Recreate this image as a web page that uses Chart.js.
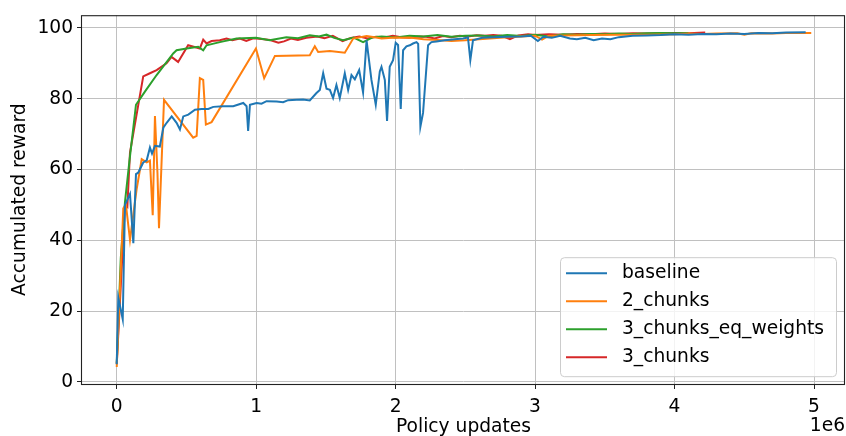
<!DOCTYPE html>
<html lang="en">
<head>
    <meta charset="UTF-8">
    <title>Accumulated reward</title>
    <script src="https://cdn.jsdelivr.net/npm/chart.js"></script>
    <style>
        body { margin: 0; background: #fff; }
        canvas { display: block; }
    </style>
</head>
<body>
    <canvas id="rewardChart" width="846" height="436"></canvas>

    <script>
        // policy updates are in millions (axis shows "1e6")
        const baselineSteps = [0.001,0.012,0.044,0.060,0.096,0.120,0.139,0.155,0.191,0.216,
            0.239,0.254,0.275,0.31,0.335,0.359,0.395,0.43,0.454,0.478,
            0.514,0.562,0.61,0.657,0.693,0.764,0.836,0.908,0.932,0.943,
            0.956,1.004,1.039,1.075,1.147,1.194,1.23,1.29,1.337,1.385,
            1.433,1.457,1.481,1.505,1.529,1.552,1.576,1.6,1.636,1.66,
            1.684,1.708,1.739,1.767,1.792,1.827,1.858,1.887,1.899,1.923,
            1.939,1.958,1.982,2.001,2.018,2.037,2.054,2.078,2.102,2.125,
            2.15,2.162,2.178,2.197,2.233,2.257,2.293,2.352,2.424,2.484,
            2.519,2.536,2.555,2.62,2.7,2.8,2.9,2.97,3.02,3.06,
            3.12,3.18,3.25,3.3,3.36,3.42,3.48,3.54,3.6,3.7,
            3.8,3.9,4.0,4.1,4.2,4.3,4.4,4.5,4.6,4.7,
            4.8,4.94];
        const baselineReward = [5,23.8,17.7,50,53.1,39.2,58.7,59.1,62,62.6,
            66.2,64.5,66.7,66.5,71.8,73.2,75,73.2,71.3,75,
            75.5,76.9,77.1,77.1,77.7,77.9,77.9,78.8,77.9,70.9,
            78.3,78.8,78.6,79.3,79.2,79,79.6,79.7,79.8,79.5,
            81.6,82.5,87.2,82.8,82.5,80.2,83.9,80.2,87.2,82.5,
            86.7,85.5,88.1,81.8,96.5,85.3,78.3,87.7,89,85.3,
            73.7,89,90.9,95.8,95.2,77.1,93.7,94.8,95.1,95.6,
            96,95.5,72.1,76,95.1,96,96.2,96.5,96.8,97,
            97.3,90.9,96.5,97.2,97.4,97.5,97.6,97.8,96.3,97.5,
            97.2,97.8,97,96.8,97.2,96.5,97,96.8,97.4,97.8,
            97.9,98,98.2,98.1,98.3,98.2,98.4,98.3,98.6,98.5,
            98.7,98.8];

        const twoChunksSteps = [0.001,0.048,0.067,0.096,0.144,0.18,0.216,0.239,0.259,0.275,
            0.293,0.304,0.34,0.549,0.574,0.597,0.621,0.64,0.681,0.999,
            1.058,1.135,1.385,1.421,1.445,1.529,1.636,1.696,1.792,1.85,
            1.9,2.0,2.05,2.1,2.2,2.3,2.4,2.5,2.6,2.7,
            2.8,2.9,3.0,3.05,3.1,3.2,3.4,3.6,3.8,4.0,
            4.1,4.2,4.3,4.45,4.5,4.55,4.7,4.8,4.98];
        const twoChunksReward = [4.2,49,50,40.1,54.5,62.9,62,62.5,47.1,75.1,
            59,43.4,79.7,69,69.5,85.8,85.3,72.7,73.4,94.2,
            85.8,92.1,92.3,94.8,93.2,93.5,93,97,97.7,97.4,
            97,97.3,97.2,97.3,96.8,96.6,96.3,96.5,96.8,97.1,
            97.4,97.6,97.8,96.7,97.8,97.9,98,98.1,98.1,98.2,
            98.4,98.3,98.4,98.5,98.1,98.5,98.4,98.6,98.6];

        const eqWeightsSteps = [0.001,0.03,0.06,0.091,0.139,0.203,0.287,0.406,0.43,0.502,
            0.585,0.621,0.645,0.74,0.86,1.0,1.097,1.217,1.3,1.385,
            1.45,1.505,1.56,1.624,1.7,1.767,1.839,1.9,2.0,2.1,
            2.2,2.3,2.4,2.5,2.6,2.7,2.8,2.9,3.0,3.1,
            3.2,3.3,3.4,3.5,3.6,3.7,3.8,3.9,4.0,4.1];
        const eqWeightsReward = [5.2,35,50.8,62,78.3,82,86.7,92.8,93.7,94.2,
            94.7,93.7,95.1,96,97,97.2,96.5,97.4,97.1,97.9,
            97.6,98.1,97.2,96.5,97.3,96,97.4,97.6,97.3,97.8,
            97.6,98,97.5,97.8,97.9,97.6,98,97.7,98.1,97.6,
            98.2,98.1,98.3,98.2,98.4,98.3,98.5,98.6,98.5,98.6];

        const threeChunksSteps = [0.001,0.06,0.077,0.096,0.191,0.239,0.287,0.358,0.394,0.441,
            0.513,0.597,0.621,0.645,0.681,0.74,0.788,0.83,0.884,0.93,
            0.98,1.04,1.1,1.16,1.2,1.25,1.3,1.36,1.44,1.49,
            1.55,1.62,1.68,1.74,1.8,1.86,1.92,1.98,2.04,2.1,
            2.16,2.22,2.28,2.34,2.4,2.46,2.52,2.58,2.64,2.7,
            2.76,2.82,2.88,2.95,3.0,3.1,3.2,3.3,3.4,3.5,
            3.6,3.7,3.8,3.9,4.0,4.1,4.22];
        const threeChunksReward = [5.1,49.9,49.4,64.8,86.3,87.2,88.1,90,91.8,90.4,
            95.1,94.2,96.7,95.6,96.3,96.5,97,96.5,97,96.3,
            97.1,96.9,96.6,95.8,96.2,97,96.6,97.2,97.6,97.1,
            97.8,96.3,97.2,97.6,97,97.5,97.3,97.8,97.4,97.2,
            97.6,97.5,97,97.7,97.4,97.8,97.6,97.9,97.8,98,
            97.8,96.8,97.9,98.2,98,98.2,98.1,98.3,98.2,98.4,
            98.3,98.5,98.4,98.5,98.6,98.5,98.7];

        const seriesNames = ['baseline', '2_chunks', '3_chunks_eq_weights', '3_chunks'];
        const seriesColors = ['#1f77b4', '#ff7f0e', '#2ca02c', '#d62728'];
        const xTicks = [0, 1, 2, 3, 4, 5];
        const yTicks = [0, 20, 40, 60, 80, 100];

        const FONT = 'DejaVu Sans';
        const FS = 18.67;

        function toPoints(steps, values) {
            return steps.map((s, i) => ({ x: s, y: values[i] }));
        }

        const allSeries = [
            toPoints(baselineSteps, baselineReward),
            toPoints(twoChunksSteps, twoChunksReward),
            toPoints(eqWeightsSteps, eqWeightsReward),
            toPoints(threeChunksSteps, threeChunksReward)
        ];

        // frame, legend box and the "1e6" offset text, matplotlib style
        const decorations = {
            id: 'decorations',
            afterDraw(chart) {
                const ctx = chart.ctx;
                const ca = chart.chartArea;
                ctx.save();

                ctx.strokeStyle = '#222';
                ctx.lineWidth = 1.1;
                ctx.strokeRect(ca.left - 0.5, ca.top + 0.5, ca.right - ca.left, ca.bottom - ca.top);

                // legend
                const bx = ca.left + 478, by = ca.top + 242, bw = 276, bh = 119;
                ctx.beginPath();
                ctx.roundRect(bx + 0.5, by + 0.5, bw, bh, 4);
                ctx.fillStyle = 'rgba(255,255,255,0.8)';
                ctx.fill();
                ctx.strokeStyle = '#cccccc';
                ctx.lineWidth = 1;
                ctx.stroke();

                ctx.font = FS + 'px "' + FONT + '"';
                ctx.textBaseline = 'middle';
                ctx.textAlign = 'left';
                chart.data.datasets.forEach((ds, i) => {
                    const y = by + 16 + i * 28;
                    ctx.strokeStyle = ds.borderColor;
                    ctx.lineWidth = 2;
                    ctx.beginPath();
                    ctx.moveTo(bx + 6, y);
                    ctx.lineTo(bx + 47, y);
                    ctx.stroke();
                    ctx.fillStyle = '#000';
                    ctx.fillText(ds.label, bx + 62, y);
                });

                ctx.textAlign = 'right';
                ctx.fillText('1e6', ca.right, 426);
                ctx.restore();
            }
        };

        const ctx = document.getElementById('rewardChart').getContext('2d');
        const rewardChart = new Chart(ctx, {
            type: 'line',
            data: {
                datasets: seriesNames.map((name, i) => ({
                    label: name,
                    data: allSeries[i],
                    borderColor: seriesColors[i],
                    backgroundColor: seriesColors[i],
                    borderWidth: 2,
                    pointRadius: 0,
                    tension: 0,
                    fill: false
                }))
            },
            options: {
                responsive: false,
                animation: false,
                parsing: false,
                layout: { padding: { top: 12, right: 1, left: 0, bottom: 0 } },
                plugins: {
                    legend: { display: false },
                    tooltip: { enabled: false }
                },
                scales: {
                    x: {
                        type: 'linear',
                        min: -0.248,
                        max: 5.222,
                        afterBuildTicks: s => { s.ticks = xTicks.map(v => ({ value: v })); },
                        afterFit: s => { s.height = 52; },
                        ticks: {
                            color: '#000',
                            padding: 7,
                            maxRotation: 0,
                            font: { family: FONT, size: FS },
                            callback: v => String(v)
                        },
                        grid: { color: '#c0c0c0', lineWidth: 1, tickLength: 5, tickColor: '#222', tickWidth: 1 },
                        border: { display: false },
                        title: {
                            display: true,
                            text: 'Policy updates',
                            color: '#000',
                            font: { family: FONT, size: FS },
                            padding: { top: 0, bottom: -2 }
                        }
                    },
                    y: {
                        type: 'linear',
                        min: -0.6,
                        max: 103.6,
                        afterBuildTicks: s => { s.ticks = yTicks.map(v => ({ value: v })); },
                        afterFit: s => { s.width = 82; },
                        ticks: {
                            color: '#000',
                            padding: 4,
                            font: { family: FONT, size: FS },
                            callback: v => String(v)
                        },
                        grid: { color: '#c0c0c0', lineWidth: 1, tickLength: 5, tickColor: '#222', tickWidth: 1 },
                        border: { display: false },
                        title: {
                            display: true,
                            text: 'Accumulated reward',
                            color: '#000',
                            font: { family: FONT, size: FS },
                            padding: { top: 9, bottom: 0 }
                        }
                    }
                }
            },
            plugins: [decorations]
        });
    </script>
</body>
</html>
